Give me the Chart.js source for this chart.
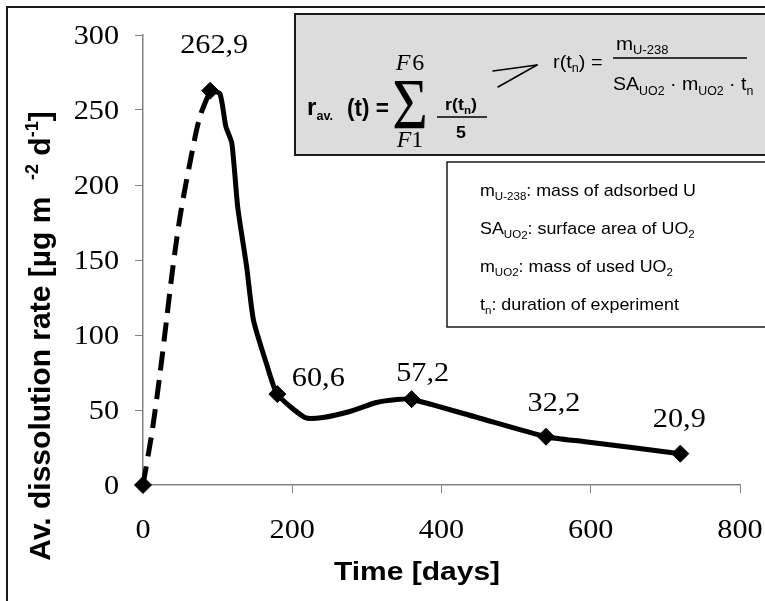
<!DOCTYPE html>
<html><head><meta charset="utf-8">
<script src="https://cdn.jsdelivr.net/npm/chart.js@4/dist/chart.umd.min.js"></script>
<style>html,body{margin:0;padding:0;background:#fff;overflow:hidden}canvas{display:block}</style>
</head><body>
<canvas id="c" width="765" height="601"></canvas>
<script>
// ---- data ----
const markerDays   = [0, 90, 180, 360, 540, 720];
const markerRates  = [0, 262.9, 60.6, 57.2, 32.2, 20.9];
const markerLabels = ["", "262,9", "60,6", "57,2", "32,2", "20,9"];
// dashed rise from the origin to the maximum
const riseDays  = [0, 12, 23, 32, 40, 50, 63, 76, 90];
const riseRates = [0, 35, 75, 112, 145, 180, 215, 245, 262.9];
// solid trend line after the maximum
const trendDays  = [90, 103, 111, 119, 127, 139, 148, 166, 180, 217, 241, 277, 313, 340, 360, 448, 540, 590, 720];
const trendRates = [262.9, 261, 239, 228, 185, 145, 110, 80, 60.6, 45, 45, 49, 55, 57, 57.2, 45, 32.2, 29, 20.9];
const xTicks = [0, 200, 400, 600, 800];
const yTicks = [0, 50, 100, 150, 200, 250, 300];
const xTitle = "Time [days]";

// ---- styles ----
const SERIF = "'Liberation Serif','Times New Roman',serif";
const SANS  = "'Liberation Sans',Arial,sans-serif";
const AXIS_GRAY = '#808080';
// label offsets (pixels) relative to the marker
const labelOffsets = [[0,0],[4,-47],[41,-17],[11,-27],[8,-35],[-1,-36]];

function toXY(xs, ys){ return xs.map((x,i)=>({x:x, y:ys[i]})); }

function runsWidth(ctx, runs){ let w=0; for(const r of runs){ ctx.font=r[1]; w+=ctx.measureText(r[0]).width; } return w; }
function drawRuns(ctx, x, y, runs, align, sx){
  sx = sx || 1;
  const w = runsWidth(ctx, runs)*sx;
  const start = align==='center' ? x-w/2 : (align==='right' ? x-w : x);
  ctx.save(); ctx.translate(start, y); ctx.scale(sx, 1);
  ctx.textAlign='left'; ctx.textBaseline='alphabetic'; ctx.fillStyle='#000';
  let cx=0;
  for(const r of runs){ ctx.font=r[1]; ctx.fillText(r[0], cx, r[2]||0); cx+=ctx.measureText(r[0]).width; }
  ctx.restore();
}
function line(ctx,x1,y1,x2,y2,w){ ctx.beginPath(); ctx.lineWidth=w; ctx.moveTo(x1,y1); ctx.lineTo(x2,y2); ctx.stroke(); }

const textPlugin = {
  id:'texts',
  afterDraw(chart){
    const ctx = chart.ctx, xs = chart.scales.x, ys = chart.scales.y;
    ctx.save();
    // tick labels
    const tickFont = '27px ' + SERIF;
    yTicks.forEach(v=>{ drawRuns(ctx, 119, ys.getPixelForValue(v)+9, [[String(v), tickFont]], 'right', 1.12); });
    xTicks.forEach(v=>{ drawRuns(ctx, xs.getPixelForValue(v), 538, [[String(v), tickFont]], 'center', 1.12); });
    // data labels
    markerDays.forEach((d,i)=>{
      if(!markerLabels[i]) return;
      const px = xs.getPixelForValue(d) + labelOffsets[i][0];
      const py = ys.getPixelForValue(markerRates[i]) + labelOffsets[i][1];
      drawRuns(ctx, px, py+9, [[markerLabels[i], tickFont]], 'center', 1.12);
    });
    // axis titles
    drawRuns(ctx, 417, 580, [[xTitle, 'bold 25px '+SANS]], 'center', 1.2);
    ctx.save(); ctx.translate(50, 336); ctx.rotate(-Math.PI/2);
    const yb = 'bold 30px '+SANS, ys2 = 'bold 18px '+SANS;
    drawRuns(ctx, 0, 0, [["Av. dissolution rate [µg m  ", yb], ["-2", ys2, -12], [" d", yb], ["-1", ys2, -12], ["]", yb]], 'center', 1);
    ctx.restore();

    // formula box
    ctx.fillStyle='#dcdcdc'; ctx.fillRect(295,14,520,141);
    ctx.strokeStyle='#1a1a1a'; ctx.lineWidth=2; ctx.strokeRect(295,14,520,141);
    const B22='bold 23px '+SANS, B13='bold 12px '+SANS, B17='bold 17px '+SANS, B11='bold 11px '+SANS;
    const R18='19px '+SANS, R12='12px '+SANS;
    drawRuns(ctx, 307, 115, [["r", B22], ["av.", B13, 5]], 'left', 1.05);
    drawRuns(ctx, 347, 116, [["(t) =", B22]], 'left', 0.98);
    drawRuns(ctx, 410, 128, [["Σ", '72px '+SERIF]], 'center', 0.85);
    drawRuns(ctx, 410, 70, [["F", 'italic 24px '+SERIF], [" ", '8px '+SERIF], ["6", '24px '+SERIF]], 'center', 1);
    drawRuns(ctx, 410, 147, [["F", 'italic 24px '+SERIF], ["1", '24px '+SERIF]], 'center', 1);
    drawRuns(ctx, 461, 110, [["r(t", B17], ["n", B11, 4], [")", B17]], 'center', 1.05);
    ctx.strokeStyle='#000'; line(ctx, 437, 117, 487, 117, 1.5);
    drawRuns(ctx, 461, 138, [["5", B17]], 'center', 1.05);
    // arrow
    ctx.lineCap='round';
    line(ctx, 493, 71, 537, 65, 1.5); line(ctx, 498, 87, 537, 65, 1.5);
    ctx.lineCap='butt';
    drawRuns(ctx, 553, 68, [["r(t", R18], ["n", R12, 4], [") =", R18]], 'left', 1.05);
    line(ctx, 613, 58, 747, 58, 1.5);
    drawRuns(ctx, 616, 50, [["m", R18], ["U-238", R12, 4]], 'left', 1.08);
    drawRuns(ctx, 613, 90, [["SA", R18], ["UO2", R12, 5], [" · m", R18], ["UO2", R12, 5], [" · t", R18], ["n", R12, 5]], 'left', 1.03);

    // legend box
    ctx.fillStyle='#fff'; ctx.fillRect(447,162,400,165);
    ctx.strokeStyle='#1a1a1a'; ctx.lineWidth=1.5; ctx.strokeRect(447,162,400,165);
    const L17='17px '+SANS, L11='11px '+SANS, L3=4;
    drawRuns(ctx, 480, 196, [["m", L17], ["U-238", L11, L3], [": mass of adsorbed U", L17]], 'left', 1.05);
    drawRuns(ctx, 480, 234, [["SA", L17], ["UO", L11, L3], ["2", L11, L3+1], [": surface area of UO", L17], ["2", L11, L3]], 'left', 1.05);
    drawRuns(ctx, 480, 272, [["m", L17], ["UO2", L11, L3], [": mass of used UO", L17], ["2", L11, L3]], 'left', 1.05);
    drawRuns(ctx, 480, 310, [["t", L17], ["n", L11, L3], [": duration of experiment", L17]], 'left', 1.05);

    // outer frame
    ctx.strokeStyle='#1a1a1a'; ctx.lineWidth=2; ctx.strokeRect(7,7,800,700);
    ctx.restore();
  }
};

new Chart(document.getElementById('c'), {
  type:'scatter',
  data:{ datasets:[
    { label:'F1-F6', data: toXY(markerDays, markerRates), showLine:false, pointStyle:'rectRot',
      pointRadius:8.5, pointHoverRadius:8.5, backgroundColor:'#000', borderColor:'#000', borderWidth:1, clip:false },
    { label:'trend', data: toXY(trendDays, trendRates), showLine:true, pointRadius:0, borderColor:'#000',
      borderWidth:5, tension:0.2, fill:false, clip:false },
    { label:'rise', data: toXY(riseDays, riseRates), showLine:true, pointRadius:0, borderColor:'#000',
      borderWidth:5, borderDash:[19,10], tension:0.3, fill:false, clip:false }
  ]},
  options:{
    responsive:false, animation:false, devicePixelRatio:1,
    layout:{ padding:{ top:35, right:25, left:0, bottom:0 } },
    plugins:{ legend:{display:false}, tooltip:{enabled:false} },
    scales:{
      x:{ type:'linear', min:0, max:800, ticks:{ display:false, stepSize:200 },
          grid:{ display:true, drawOnChartArea:false, drawTicks:true, tickLength:8, color:AXIS_GRAY, tickColor:AXIS_GRAY },
          border:{ display:true, color:AXIS_GRAY, width:1.5 },
          afterFit:(s)=>{ s.height = 116; } },
      y:{ type:'linear', min:0, max:300, ticks:{ display:false, stepSize:50 },
          grid:{ display:true, drawOnChartArea:false, drawTicks:true, tickLength:8, color:AXIS_GRAY, tickColor:AXIS_GRAY },
          border:{ display:true, color:AXIS_GRAY, width:1.5 },
          afterFit:(s)=>{ s.width = 143; } }
    }
  },
  plugins:[textPlugin]
});
</script>
</body></html>
